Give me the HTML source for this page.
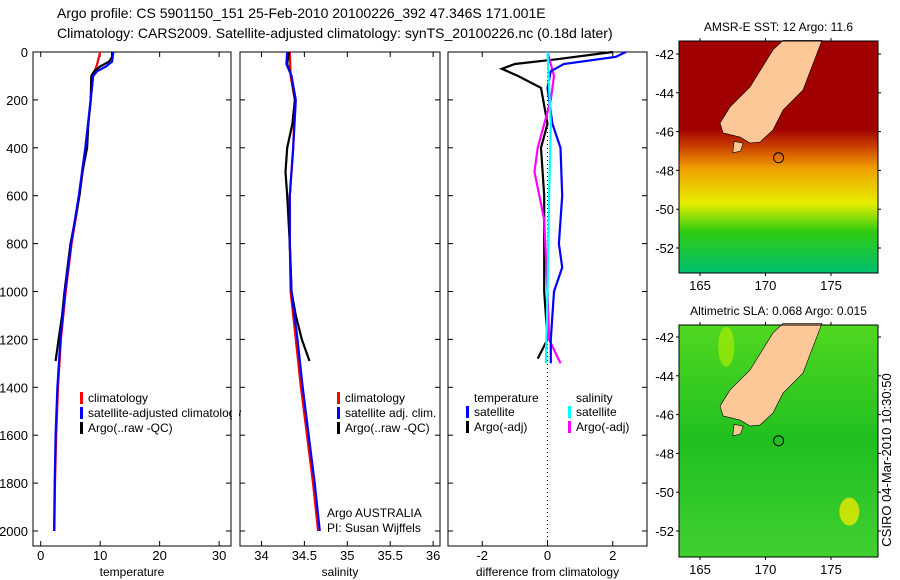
<!DOCTYPE html>
<html><head><meta charset="utf-8"><style>
body{margin:0;background:#fff;}
svg{display:block;font-family:"Liberation Sans",sans-serif;}
</style></head><body>
<svg width="900" height="580" viewBox="0 0 900 580">
<text x="57" y="18" font-size="14">Argo profile: CS 5901150_151 25-Feb-2010 20100226_392 47.346S 171.001E</text>
<text x="57" y="38" font-size="14">Climatology: CARS2009. Satellite-adjusted climatology: synTS_20100226.nc (0.18d later)</text>
<g id="plots"></g>
<g id="maps"></g>
<text transform="translate(891,460) rotate(-90)" font-size="13" text-anchor="middle">CSIRO 04-Mar-2010 10:30:50</text>
</svg>
<script>
// ---- data (depth in m) ----
const tArgoD=[0,20,40,60,80,100,200,300,400,500,600,700,800,900,1000,1100,1200,1290];
const tArgoV=[12,12,11.5,10,9,8.5,8.4,8,7.8,7,6.5,5.8,5,4.5,4,3.6,3,2.5];
const tClimD=[0,50,100,200,400,600,800,1000,1200,1400,1600,1800,2000];
const tClimV=[10,9.5,8.8,8.4,7.6,6.5,5.2,4.2,3.4,2.9,2.6,2.4,2.3];
const tSatD=[0,40,60,80,100,200,400,600,800,1000,1200,1400,1600,1800,2000];
const tSatV=[12.2,12,11,9.5,8.8,8.4,7.5,6.4,5.1,4.1,3.3,2.8,2.5,2.35,2.25];
const sArgoD=[0,50,100,200,300,400,500,600,800,1000,1100,1200,1290];
const sArgoV=[34.32,34.3,34.35,34.39,34.36,34.3,34.28,34.3,34.33,34.35,34.4,34.47,34.56];
const sClimD=[0,100,200,400,600,800,1000,1200,1400,1600,1800,2000];
const sClimV=[34.33,34.34,34.39,34.37,34.33,34.33,34.34,34.4,34.46,34.53,34.6,34.66];
const sSatD=[0,50,100,200,400,600,800,1000,1200,1400,1600,1800,2000];
const sSatV=[34.3,34.29,34.35,34.4,34.37,34.33,34.33,34.35,34.42,34.48,34.55,34.62,34.68];
const dTSatD=[0,20,50,80,150,300,400,600,800,900,1000,1200,1300];
const dTSatV=[2.4,2.1,0.5,0.1,0,0.15,0.4,0.45,0.35,0.45,0.2,0.1,0.1];
const dTArgoD=[0,30,50,70,100,150,300,400,600,800,1000,1200,1280];
const dTArgoV=[2.0,0.3,-1.0,-1.4,-0.9,-0.2,0,-0.2,-0.1,-0.1,-0.1,0,-0.3];
const dSSatD=[0,300,600,1000,1300];
const dSSatV=[0,0.1,0.05,0,-0.05];
const dSArgoD=[0,100,200,400,500,700,1000,1200,1300];
const dSArgoV=[0,0.2,0.1,-0.3,-0.4,-0.1,0,0.05,0.4];
const depthTicks=[0,200,400,600,800,1000,1200,1400,1600,1800,2000];
const tTicks=[0,10,20,30];
const sTicks=[34,34.5,35,35.5,36];
const dTicks=[-2,0,2];

const NS='http://www.w3.org/2000/svg';
function mk(p,tag,at){const e=document.createElementNS(NS,tag);for(const k in at)e.setAttribute(k,at[k]);p.appendChild(e);return e;}
const top0=52,bot0=546;
const yD=d=>52+d*0.2395;
const plots=document.getElementById('plots');
const panels=[
 {x0:33,x1:231,lo:-1.3,hi:32,ticks:tTicks,label:'temperature',name:'temperature'},
 {x0:240,x1:440,lo:33.75,hi:36.08,ticks:sTicks,label:'salinity',name:'salinity'},
 {x0:448,x1:647,lo:-3.05,hi:3.05,ticks:dTicks,label:'difference from climatology',name:'difference'}
];
panels.forEach((p,i)=>{
 p.sx=v=>p.x0+(v-p.lo)/(p.hi-p.lo)*(p.x1-p.x0);
 const g=mk(plots,'g',{});
 
 
 const r=mk(g,'rect',{x:p.x0,y:top0,width:p.x1-p.x0,height:bot0-top0,fill:'#fff',stroke:'#000','stroke-width':1});
 
 
 depthTicks.forEach(d=>{
  const y=yD(d);
  mk(g,'line',{x1:p.x0,x2:p.x0+5,y1:y,y2:y,stroke:'#000'});
  mk(g,'line',{x1:p.x1-5,x2:p.x1,y1:y,y2:y,stroke:'#000'});
  if(i==0){const t=mk(g,'text',{x:28,y:y+5,'font-size':13,'text-anchor':'end'});t.textContent=d;
   
   }
 });
 p.ticks.forEach(v=>{
  const x=p.sx(v);
  mk(g,'line',{x1:x,x2:x,y1:top0,y2:top0+5,stroke:'#000'});
  mk(g,'line',{x1:x,x2:x,y1:bot0-5,y2:bot0,stroke:'#000'});
  const t=mk(g,'text',{x:x,y:560,'font-size':13,'text-anchor':'middle'});t.textContent=v;
  
  
 });
 const t=mk(g,'text',{x:(p.x0+p.x1)/2,y:576,'font-size':12,'text-anchor':'middle'});t.textContent=p.label;
 
 
});
function line(p,D,V,col,name,dash){
 const pts=D.map((d,k)=>p.sx(V[k]).toFixed(1)+','+yD(d).toFixed(1)).join(' ');
 const e=mk(plots,'polyline',{points:pts,fill:'none',stroke:col,'stroke-width':2.2});
 if(dash)e.setAttribute('stroke-dasharray',dash);
 
 
}
const P=panels;
const zx=P[2].sx(0);
const z=mk(plots,'line',{x1:zx,x2:zx,y1:top0,y2:bot0,stroke:'#000','stroke-dasharray':'1,3'});


line(P[0],tClimD,tClimV,'#f00','temp-climatology-line');
line(P[0],tArgoD,tArgoV,'#000','temp-argo-line');
line(P[0],tSatD,tSatV,'#00f','temp-satellite-line');
line(P[1],sClimD,sClimV,'#f00','sal-climatology-line');
line(P[1],sArgoD,sArgoV,'#000','sal-argo-line');
line(P[1],sSatD,sSatV,'#00f','sal-satellite-line');
line(P[2],dTArgoD,dTArgoV,'#000','diff-temp-argo-line');
line(P[2],dSArgoD,dSArgoV,'#f0f','diff-sal-argo-line');
line(P[2],dTSatD,dTSatV,'#00f','diff-temp-satellite-line');
line(P[2],dSSatD,dSSatV,'#0ff','diff-sal-satellite-line');
function leg(x,y,col,txt,name){
 if(col){mk(plots,'rect',{x:x,y:y-10,width:3,height:12,fill:col});}
 const t=mk(plots,'text',{x:x+8,y:y,'font-size':12});t.textContent=txt;
 
 
}
leg(80,402,'#f00','climatology','legend-climatology');
leg(80,417,'#00f','satellite-adjusted climatology','legend-satellite-adjusted');
leg(80,432,'#000','Argo(..raw -QC)','legend-argo');
mk(plots,'rect',{x:232,y:390,width:7,height:50,fill:'#fff'});
mk(plots,'line',{x1:240,x2:240,y1:390,y2:440,stroke:'#000'});
leg(337,402,'#f00','climatology','legend2-climatology');
leg(337,417,'#00f','satellite adj. clim.','legend2-satellite');
leg(337,432,'#000','Argo(..raw -QC)','legend2-argo');
const a1=mk(plots,'text',{x:327,y:517,'font-size':12});a1.textContent='Argo AUSTRALIA';


const a2=mk(plots,'text',{x:327,y:532,'font-size':12});a2.textContent='PI: Susan Wijffels';


leg(466,402,null,'temperature','legend3-temperature-header');
leg(466,416,'#00f','satellite','legend3-temp-satellite');
leg(466,431,'#000','Argo(-adj)','legend3-temp-argo');
leg(568,402,null,'salinity','legend3-salinity-header');
leg(568,416,'#0ff','satellite','legend3-sal-satellite');
leg(568,431,'#f0f','Argo(-adj)','legend3-sal-argo');

// ---- maps ----
const maps=document.getElementById('maps');
const lonTicks=[165,170,175];
const latTicks=[-42,-44,-46,-48,-50,-52];
const land=[[171.34,-41.3],[174.31,-41.3],[172.86,-43.86],[171.34,-44.89],[170.57,-45.92],[169.58,-46.54],[168.82,-46.59],[168.05,-46.28],[166.76,-46.07],[166.53,-45.56],[167.29,-44.73],[168.82,-43.70],[170.57,-41.79]];
const stewart=[[167.6,-46.5],[168.3,-46.6],[168.1,-47.0],[167.5,-47.1]];
function map(y0,y1,lat42,title,name,sst){
 const x0=679,x1=878;
 const sx=l=>700+(l-165)*13.1, sy=la=>lat42+(-42-la)*19.4;
 const g=mk(maps,'g',{});
 
 
 const id=name+'-grad';
 const gr=mk(g,'linearGradient',{id:id,x1:0,y1:0,x2:0,y2:1});
 const stops=sst?[[0,'#a00000'],[0.38,'#a00000'],[0.45,'#c83c00'],[0.55,'#f0a000'],[0.7,'#e6ee00'],[0.82,'#30cc10'],[1,'#00c070']]:[[0,'#50d820'],[0.5,'#20c020'],[1,'#40d030']];
 stops.forEach(s=>mk(gr,'stop',{offset:s[0],'stop-color':s[1]}));
 const bg=mk(g,'rect',{x:x0,y:y0,width:x1-x0,height:y1-y0,fill:'url(#'+id+')'});
 
 
 if(!sst){mk(g,'ellipse',{cx:sx(176.4),cy:sy(-51),rx:10,ry:14,fill:'#e8e800',opacity:0.8});
  mk(g,'ellipse',{cx:sx(167),cy:sy(-42.5),rx:8,ry:20,fill:'#b8f000',opacity:0.6});}
 const pl=mk(g,'polygon',{points:land.map(p=>sx(p[0])+','+sy(p[1])).join(' '),fill:'#fcc898',stroke:'#000','stroke-width':0.6});
 
 
 mk(g,'polygon',{points:stewart.map(p=>sx(p[0])+','+sy(p[1])).join(' '),fill:'#fcc898',stroke:'#000','stroke-width':0.6});
 const c=mk(g,'circle',{cx:sx(171.0),cy:sy(-47.35),r:5,fill:'none',stroke:'#000'});
 
 
 mk(g,'rect',{x:x0,y:y0,width:x1-x0,height:y1-y0,fill:'none',stroke:'#000'});
 lonTicks.forEach(l=>{const x=sx(l);mk(g,'line',{x1:x,x2:x,y1:y0-3,y2:y0,stroke:'#000'});mk(g,'line',{x1:x,x2:x,y1:y1,y2:y1+3,stroke:'#000'});
  const t=mk(g,'text',{x:x,y:y1+17,'font-size':13,'text-anchor':'middle'});t.textContent=l;
  
  });
 latTicks.forEach(la=>{const y=sy(la);mk(g,'line',{x1:x0-3,x2:x0,y1:y,y2:y,stroke:'#000'});mk(g,'line',{x1:x1,x2:x1+3,y1:y,y2:y,stroke:'#000'});
  const t=mk(g,'text',{x:x0-5,y:y+5,'font-size':13,'text-anchor':'end'});t.textContent=la;
  
  });
 const tt=mk(g,'text',{x:(x0+x1)/2,y:y0-10,'font-size':12,'text-anchor':'middle'});tt.textContent=title;
 
 
}
map(41,273,54,'AMSR-E SST: 12 Argo: 11.6','sst-map',true);
map(325,557,337,'Altimetric SLA: 0.068 Argo: 0.015','sla-map',false);
</script>
</body></html>
